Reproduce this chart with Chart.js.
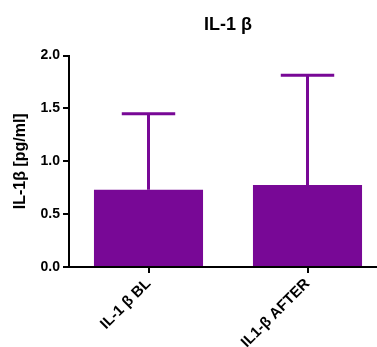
<!DOCTYPE html>
<html>
<head>
<meta charset="utf-8">
<script src="https://cdn.jsdelivr.net/npm/chart.js@4.4.1/dist/chart.umd.min.js"></script>
<style>
  html, body { margin: 0; padding: 0; background: #fff; overflow: hidden; width: 377px; height: 347px; }
  #wrap { position: relative; width: 387px; height: 347px; }
</style>
</head>
<body>
<div id="wrap"><canvas id="c"></canvas></div>
<script>
const categories = ['IL-1 β BL', 'IL1-β AFTER'];
const means = [0.73, 0.775];
const errors = [0.72, 1.04];
const yTicks = [0, 0.5, 1.0, 1.5, 2.0];

const purple = 'rgb(120,8,150)';
const FONT = "'Liberation Sans', Arial, Helvetica, sans-serif";

const errorBars = {
  id: 'errorBars',
  afterDatasetsDraw(chart) {
    const ctx = chart.ctx;
    const meta = chart.getDatasetMeta(0);
    const y = chart.scales.y;
    ctx.save();
    ctx.strokeStyle = purple;
    ctx.lineWidth = 3;
    meta.data.forEach((bar, i) => {
      const x = bar.x;
      const y0 = y.getPixelForValue(means[i]);
      const y1 = y.getPixelForValue(means[i] + errors[i]);
      const half = bar.width * 0.245;
      ctx.beginPath();
      ctx.moveTo(x, y0);
      ctx.lineTo(x, y1);
      ctx.moveTo(x - half, y1);
      ctx.lineTo(x + half, y1);
      ctx.stroke();
    });
    ctx.restore();
  }
};

new Chart(document.getElementById('c'), {
  type: 'bar',
  data: {
    labels: categories,
    datasets: [{
      data: means,
      backgroundColor: purple,
      borderWidth: 0,
      barPercentage: 0.686,
      categoryPercentage: 1.0
    }]
  },
  options: {
    responsive: true,
    maintainAspectRatio: false,
    animation: false,
    layout: { padding: { left: 0, right: 0, top: 0, bottom: 0 } },
    plugins: {
      legend: { display: false },
      tooltip: { enabled: false },
      title: {
        display: true,
        text: 'IL-1 β',
        fullSize: false,
        color: '#000',
        font: { family: FONT, size: 18, weight: 'bold' },
        padding: { top: 14, bottom: 20 }
      }
    },
    scales: {
      x: {
        afterFit(s) { s.height = 80; },
        border: { display: true, color: '#000', width: 2 },
        grid: { display: true, drawOnChartArea: false, drawTicks: true, tickLength: 6, color: '#000', lineWidth: 2, offset: false },
        ticks: {
          color: '#000',
          font: { family: FONT, size: 15, weight: 'bold' },
          maxRotation: 45, minRotation: 45,
          padding: 2,
          autoSkip: false
        }
      },
      y: {
        min: 0, max: 2,
        afterFit(s) { s.width = 69; },
        afterBuildTicks(s) { s.ticks = yTicks.map(v => ({ value: v })); },
        border: { display: true, color: '#000', width: 2 },
        grid: { display: true, drawOnChartArea: false, drawTicks: true, tickLength: 6, color: '#000', lineWidth: 2 },
        ticks: {
          color: '#000',
          font: { family: FONT, size: 14, weight: 'bold' },
          padding: 3,
          callback: v => Number(v).toFixed(1)
        },
        title: {
          display: true,
          text: 'IL-1β [pg/ml]',
          color: '#000',
          font: { family: FONT, size: 16, weight: 'bold' },
          padding: { top: 11, bottom: 0 }
        }
      }
    }
  },
  plugins: [errorBars]
});
</script>
</body>
</html>
